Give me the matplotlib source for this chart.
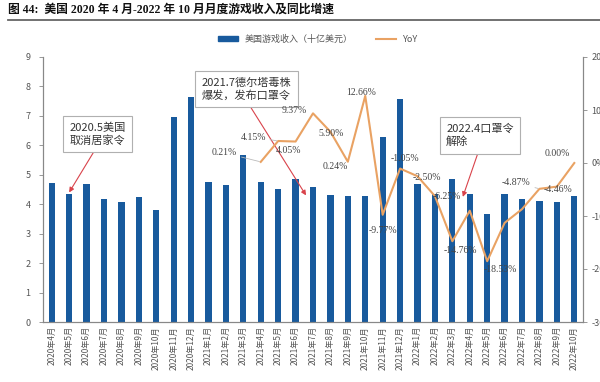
import numpy as np
import matplotlib
matplotlib.use("Agg")
import matplotlib.pyplot as plt
from matplotlib.lines import Line2D
from matplotlib.patches import Patch

plt.rcParams['font.family'] = ['Noto Sans CJK SC', 'DejaVu Sans']
plt.rcParams['axes.unicode_minus'] = False

## months 2020-4 .. 2022-10
months = ['2020年4月', '2020年5月', '2020年6月', '2020年7月', '2020年8月', '2020年9月',
          '2020年10月', '2020年11月', '2020年12月', '2021年1月', '2021年2月', '2021年3月',
          '2021年4月', '2021年5月', '2021年6月', '2021年7月', '2021年8月', '2021年9月',
          '2021年10月', '2021年11月', '2021年12月', '2022年1月', '2022年2月', '2022年3月',
          '2022年4月', '2022年5月', '2022年6月', '2022年7月', '2022年8月', '2022年9月',
          '2022年10月']

revenue = [4.73, 4.35, 4.69, 4.18, 4.06, 4.24, 3.80, 6.96, 7.64, 4.77, 4.66, 5.68,
           4.74, 4.52, 4.85, 4.58, 4.32, 4.29, 4.29, 6.30, 7.57, 4.69, 4.35, 4.85,
           4.35, 3.67, 4.35, 4.18, 4.12, 4.07, 4.29]

# YoY only from 2021-4 onwards
yoy = [np.nan] * 12 + [0.21, 4.15, 4.05, 9.37, 5.90, 0.24, 12.66, -9.77, -1.05, -2.50,
                       -6.25, -14.76, -9.0, -18.53, -11.3, -8.7, -4.87, -4.46, 0.00]

# which points get a label, and where (offset in pixels), leader line or not
label_idx = [12, 13, 14, 15, 16, 17, 18, 19, 20, 21, 22, 23, 25, 28, 29, 30]
label_off = [(-36, 9), (-25, 4), (-7, -9), (-19, 3), (1, -2), (-13, -5), (-4, 3), (0, -16),
             (5, 10), (9, -1), (12, 0), (8, -9), (13, -8), (-23, 6), (1, -3), (-17, 9)]
leader = [12, 13, 28]

events = ['2020.5美国\n取消居家令', '2021.7德尔塔毒株\n爆发，发布口罩令', '2022.4口罩令\n解除']
event_x = [1, 14.6, 23.6]
event_y = [4.4, 4.3, 4.25]
event_box = [(97.5 / 600, 1 - 134 / 382), (246.5 / 600, 1 - 89 / 382), (480 / 600, 1 - 135.5 / 382)]

BLUE = '#185a9d'
ORANGE = '#e9a263'
GREY = '#555555'

fig = plt.figure(figsize=(6, 3.82), dpi=100)
ax = fig.add_axes([43 / 600, 60 / 382, 540 / 600, 265 / 382])
ax2 = ax.twinx()

x = np.arange(len(months))
ax.bar(x, revenue, width=0.36, color=BLUE, zorder=2)
ax.set_xlim(-0.5, len(months) - 0.5)
ax.set_ylim(0, 9)
ax.set_yticks(range(0, 10))
ax.set_xticks(x)
ax.set_xticklabels(months, rotation=90, fontsize=5.9, color=GREY)
ax.tick_params(axis='x', length=0, pad=3)
ax.tick_params(axis='y', labelsize=6.5, labelcolor=GREY, length=3, width=0.6, color='#888888', pad=6)
for s in ['top']:
    ax.spines[s].set_visible(False)
    ax2.spines[s].set_visible(False)
for s in ['left', 'right', 'bottom']:
    ax.spines[s].set_color('#888888')
    ax2.spines[s].set_color('#888888')
    ax.spines[s].set_linewidth(0.8)
    ax2.spines[s].set_linewidth(0.8)

ax2.plot(x, yoy, color=ORANGE, lw=1.5, zorder=3)
ax2.set_ylim(-30, 20)
ax2.set_yticks(range(-30, 21, 10))
ax2.set_yticklabels(['%d%%' % v for v in range(-30, 21, 10)])
ax2.tick_params(axis='y', labelsize=6.5, labelcolor=GREY, length=3, width=0.6, color='#888888', pad=3)

for i, (dx, dy) in zip(label_idx, label_off):
    props = None
    if i in leader:
        props = dict(arrowstyle='-', color='#bbbbbb', lw=0.6, shrinkA=1, shrinkB=1)
    ax2.annotate('%.2f%%' % yoy[i], xy=(x[i], yoy[i]), xytext=(dx, dy),
                 textcoords='offset pixels', ha='center', va='center',
                 fontsize=7, color='#444444', family=['Liberation Serif'],
                 arrowprops=props, zorder=4)

for txt, ex, ey, pos in zip(events, event_x, event_y, event_box):
    ax.annotate(txt, xy=(ex, ey), xytext=pos, textcoords='figure fraction',
                ha='center', va='center', multialignment='left', fontsize=8, color='#333333',
                linespacing=1.25,
                bbox=dict(boxstyle='square,pad=0.6', fc='white', ec='#b0b0b0', lw=0.8),
                arrowprops=dict(arrowstyle='-|>', color='#d9434b', lw=0.8,
                                mutation_scale=7, relpos=(0.5, 0), shrinkA=0, shrinkB=0),
                zorder=10, annotation_clip=False)

# legend
handles = [Patch(color=BLUE), Line2D([0], [0], color=ORANGE, lw=1.5)]
fig.legend(handles, ['美国游戏收入（十亿美元）', 'YoY'], loc='center', ncol=2,
           bbox_to_anchor=(318 / 600, 1 - 39 / 382), frameon=False, fontsize=6.5,
           handlelength=2.2, handleheight=0.5, columnspacing=2.5, labelcolor='#555555')

# title and rule
fig.text(8 / 600, 1 - 10 / 382, '图 44:  美国 2020 年 4 月-2022 年 10 月月度游戏收入及同比增速',
         ha='left', va='center', fontsize=8.5, fontweight='bold', color='#111111',
         family=['Liberation Serif', 'Noto Sans CJK SC'])
fig.add_artist(Line2D([8 / 600, 1], [1 - 20 / 382, 1 - 20 / 382], transform=fig.transFigure,
                      color='#666666', lw=1.3))

fig.savefig('out.png', dpi=100)
